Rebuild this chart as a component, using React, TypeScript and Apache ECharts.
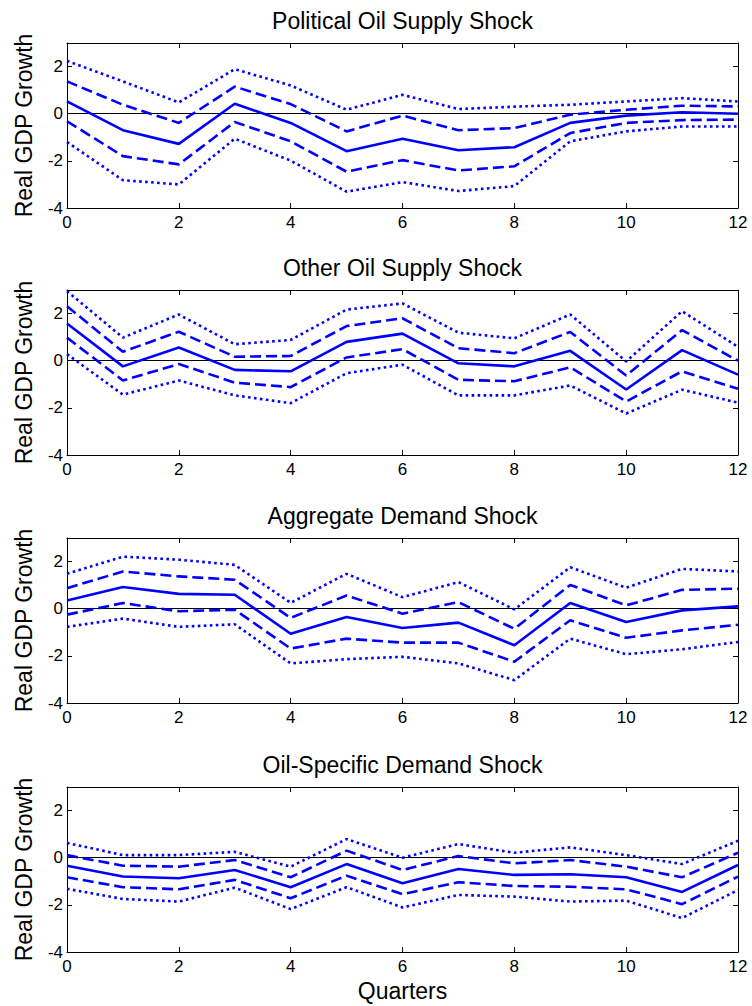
import React, { useEffect, useRef } from "react";
import * as echarts from "echarts";

const quarters = [0, 1, 2, 3, 4, 5, 6, 7, 8, 9, 10, 11, 12];
const panelTitles = [
  "Political Oil Supply Shock",
  "Other Oil Supply Shock",
  "Aggregate Demand Shock",
  "Oil-Specific Demand Shock",
];
const yAxisTitle = "Real GDP Growth";
const xAxisTitle = "Quarters";

// Panel 1: Political Oil Supply Shock
const p1Median = [0.52, -0.70, -1.28, 0.42, -0.39, -1.59, -1.06, -1.55, -1.42, -0.39, -0.08, 0.06, 0.0];
const p1Upper1 = [1.37, 0.38, -0.39, 1.15, 0.41, -0.75, -0.08, -0.70, -0.61, -0.04, 0.17, 0.34, 0.31];
const p1Lower1 = [-0.32, -1.80, -2.15, -0.35, -1.17, -2.46, -1.97, -2.41, -2.23, -0.82, -0.39, -0.27, -0.25];
const p1Upper2 = [2.24, 1.37, 0.48, 1.89, 1.20, 0.17, 0.80, 0.20, 0.30, 0.38, 0.52, 0.66, 0.52];
const p1Lower2 = [-1.20, -2.82, -3.00, -1.06, -1.99, -3.31, -2.90, -3.28, -3.07, -1.17, -0.75, -0.54, -0.54];

// Panel 2: Other Oil Supply Shock
const p2Median = [1.58, -0.24, 0.56, -0.39, -0.45, 0.80, 1.15, -0.11, -0.24, 0.42, -1.22, 0.45, -0.59];
const p2Upper1 = [2.31, 0.38, 1.23, 0.17, 0.20, 1.47, 1.80, 0.53, 0.32, 1.22, -0.63, 1.30, 0.0];
const p2Lower1 = [0.98, -0.84, -0.14, -0.93, -1.12, 0.14, 0.49, -0.81, -0.87, -0.28, -1.73, -0.45, -1.19];
const p2Upper2 = [2.95, 0.98, 1.96, 0.70, 0.88, 2.17, 2.43, 1.19, 0.95, 1.96, -0.03, 2.10, 0.59];
const p2Lower2 = [0.28, -1.44, -0.84, -1.47, -1.80, -0.53, -0.17, -1.47, -1.47, -1.05, -2.24, -1.23, -1.78];

// Panel 3: Aggregate Demand Shock
const p3Median = [0.35, 0.92, 0.63, 0.59, -1.06, -0.35, -0.82, -0.59, -1.55, 0.24, -0.56, -0.07, 0.10];
const p3Upper1 = [0.87, 1.58, 1.37, 1.23, -0.39, 0.56, -0.21, 0.28, -0.85, 1.01, 0.14, 0.80, 0.85];
const p3Lower1 = [-0.25, 0.24, -0.11, -0.04, -1.69, -1.27, -1.44, -1.44, -2.25, -0.49, -1.23, -0.92, -0.68];
const p3Upper2 = [1.48, 2.21, 2.08, 1.86, 0.25, 1.48, 0.49, 1.13, -0.03, 1.76, 0.89, 1.69, 1.58];
const p3Lower2 = [-0.77, -0.42, -0.77, -0.66, -2.32, -2.14, -2.04, -2.32, -3.03, -1.27, -1.93, -1.72, -1.41];

// Panel 4: Oil-Specific Demand Shock
const p4Median = [-0.34, -0.80, -0.87, -0.52, -1.25, -0.27, -1.08, -0.48, -0.73, -0.70, -0.83, -1.45, -0.31];
const p4Upper1 = [0.11, -0.34, -0.38, -0.10, -0.83, 0.30, -0.52, 0.07, -0.24, -0.10, -0.38, -0.83, 0.21];
const p4Lower1 = [-0.83, -1.25, -1.34, -0.94, -1.72, -0.76, -1.55, -1.04, -1.20, -1.23, -1.34, -1.97, -0.80];
const p4Upper2 = [0.63, 0.11, 0.11, 0.25, -0.38, 0.79, 0.00, 0.58, 0.21, 0.44, 0.11, -0.27, 0.72];
const p4Lower2 = [-1.32, -1.75, -1.86, -1.27, -2.18, -1.25, -2.11, -1.58, -1.65, -1.86, -1.82, -2.56, -1.37];

const panels = [
  { median: p1Median, upper1: p1Upper1, lower1: p1Lower1, upper2: p1Upper2, lower2: p1Lower2 },
  { median: p2Median, upper1: p2Upper1, lower1: p2Lower1, upper2: p2Upper2, lower2: p2Lower2 },
  { median: p3Median, upper1: p3Upper1, lower1: p3Lower1, upper2: p3Upper2, lower2: p3Lower2 },
  { median: p4Median, upper1: p4Upper1, lower1: p4Lower1, upper2: p4Upper2, lower2: p4Lower2 },
];

const X_MIN = 0;
const X_MAX = 12;
const X_INTERVAL = 2;
const Y_MIN = -4;
const Y_MAX = 3;
const Y_INTERVAL = 2;

const FONT = "'Liberation Sans', Arial, Helvetica, sans-serif";
const BLUE = "#0000ff";

export default function App() {
  const ref = useRef<HTMLDivElement>(null);

  useEffect(() => {
    document.body.style.margin = "0";
    if (!ref.current) return;
    const chart = echarts.init(ref.current, null, { renderer: "svg" });

    const gridLeft = 67;
    const gridRight = 14;
    const gridHeight = 165;
    const tops = [43, 290, 538, 787];
    const chartW = 752;
    const centerX = gridLeft + (chartW - gridLeft - gridRight) / 2;

    const grids = tops.map((top) => ({
      left: gridLeft,
      right: gridRight,
      top,
      height: gridHeight,
      containLabel: false,
    }));

    const axisLine = { show: true, onZero: false, lineStyle: { color: "#000", width: 1 } };
    const axisTick = { show: true, inside: true, length: 5, lineStyle: { color: "#000", width: 1 } };

    const xAxes: any[] = [];
    const yAxes: any[] = [];
    tops.forEach((_, i) => {
      xAxes.push({
        type: "value",
        gridIndex: i,
        position: "bottom",
        min: X_MIN,
        max: X_MAX,
        interval: X_INTERVAL,
        axisLine,
        axisTick,
        splitLine: { show: false },
        axisLabel: { color: "#000", fontSize: 17, fontFamily: FONT, margin: 6 },
      });
      yAxes.push({
        type: "value",
        gridIndex: i,
        position: "left",
        min: Y_MIN,
        max: Y_MAX,
        interval: Y_INTERVAL,
        axisLine,
        axisTick,
        splitLine: { show: false },
        axisLabel: {
          color: "#000",
          fontSize: 17,
          fontFamily: FONT,
          margin: 4,
          formatter: (v: number) => (v === Y_MAX ? "" : String(v)),
        },
      });
    });
    tops.forEach((_, i) => {
      xAxes.push({
        type: "value",
        gridIndex: i,
        position: "top",
        min: X_MIN,
        max: X_MAX,
        interval: X_INTERVAL,
        axisLine,
        axisTick,
        splitLine: { show: false },
        axisLabel: { show: false },
      });
      yAxes.push({
        type: "value",
        gridIndex: i,
        position: "right",
        min: Y_MIN,
        max: Y_MAX,
        interval: Y_INTERVAL,
        axisLine,
        axisTick,
        splitLine: { show: false },
        axisLabel: { show: false },
      });
    });

    const series: any[] = [];
    panels.forEach((p, i) => {
      const mk = (vals: number[], type: any, extra: any = {}) => ({
        type: "line",
        xAxisIndex: i,
        yAxisIndex: i,
        data: quarters.map((q, k) => [q, vals[k]]),
        symbol: "none",
        silent: true,
        lineStyle: { color: BLUE, width: 2.6, type, cap: "butt" },
        ...extra,
      });
      series.push(
        mk(p.median, "solid", {
          markLine: {
            silent: true,
            symbol: ["none", "none"],
            label: { show: false },
            lineStyle: { color: "#000", width: 1, type: "solid" },
            data: [{ yAxis: 0 }],
            z: 1,
          },
        })
      );
      series.push(mk(p.upper1, [11, 5]));
      series.push(mk(p.lower1, [11, 5]));
      series.push(mk(p.upper2, [2.6, 3.4]));
      series.push(mk(p.lower2, [2.6, 3.4]));
    });

    const graphics: any[] = [];
    tops.forEach((top, i) => {
      graphics.push({
        type: "text",
        x: centerX,
        y: top - 22,
        style: {
          text: panelTitles[i],
          font: `23px ${FONT}`,
          fill: "#000",
          textAlign: "center",
          textVerticalAlign: "middle",
        },
      });
      graphics.push({
        type: "text",
        x: 24,
        y: top + gridHeight / 2,
        rotation: Math.PI / 2,
        style: {
          text: yAxisTitle,
          font: `23px ${FONT}`,
          fill: "#000",
          textAlign: "center",
          textVerticalAlign: "middle",
        },
      });
    });
    graphics.push({
      type: "text",
      x: centerX,
      y: 991,
      style: {
        text: xAxisTitle,
        font: `23px ${FONT}`,
        fill: "#000",
        textAlign: "center",
        textVerticalAlign: "middle",
      },
    });

    chart.setOption({
      animation: false,
      backgroundColor: "#fff",
      grid: grids,
      xAxis: xAxes,
      yAxis: yAxes,
      series,
      graphic: graphics,
    });

    return () => chart.dispose();
  }, []);

  return <div ref={ref} style={{ width: 752, height: 1006 }} />;
}
